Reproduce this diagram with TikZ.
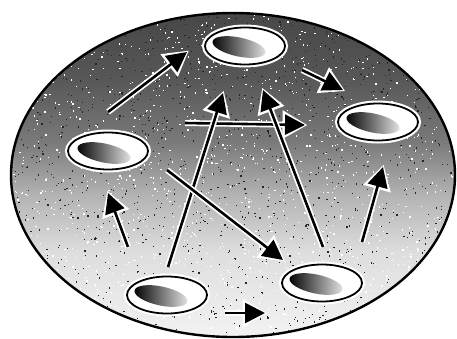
\documentclass[tikz,border=0pt]{standalone}
\usetikzlibrary{arrows.meta,shapes.geometric}
\pgfdeclareverticalshading{diskshade}{100bp}{color(0bp)=(black!5); color(25bp)=(black!5); color(38bp)=(black!13); color(47bp)=(black!30); color(55bp)=(black!52); color(65bp)=(black!66); color(75bp)=(black!72); color(100bp)=(black!72)}
\begin{document}
\begin{tikzpicture}[x=1pt,y=-1pt,
  cell/.style={ellipse, draw, line width=1.8pt, fill=white, minimum width=80pt, minimum height=37pt, inner sep=0pt, preaction={draw=white, line width=6pt}},
  blob/.style={ellipse, minimum width=54pt, minimum height=19pt, inner sep=0pt, left color=black, right color=black!10, rotate=-12},
  arr/.style={draw=black, line width=2.6pt, -{Triangle[length=20pt,width=20pt]},
    preaction={draw=white, line width=6pt, -{Triangle[length=25pt,width=27pt]}, shorten >=-2.5pt}},
]
\useasboundingbox (0,0) rectangle (457,338);
\shade[shading=diskshade] (233,175) ellipse [x radius=222, y radius=162];
\begin{scope}
\clip (233,175) ellipse [x radius=222, y radius=162];
\pgfmathsetseed{7}
\foreach \k in {1,...,1400} {
  \pgfmathsetmacro{\px}{10+447*rnd}
  \pgfmathsetmacro{\py}{12+326*rnd}
  \fill[white] (\px,\py) rectangle ++(1.3,1.3);
}
\foreach \k in {1,...,1400} {
  \pgfmathsetmacro{\px}{10+447*rnd}
  \pgfmathsetmacro{\py}{12+326*rnd}
  \fill[black!85] (\px,\py) rectangle ++(1.2,1.2);
}
\end{scope}
\draw[line width=2.4pt] (233,175) ellipse [x radius=222, y radius=162];
% cells
\node[cell] (t)  at (245,46)  {};
\node[cell] (l)  at (108,151) {};
\node[cell] (r)  at (378,122) {};
\node[cell] (bl) at (167,295) {};
\node[cell] (br) at (322,283) {};
\node[blob] (tb)  at (239,47)  {};
\node[blob] (lb)  at (104,153) {};
\node[blob] (rb)  at (373,123) {};
\node[blob] (blb) at (161,296) {};
\node[blob] (brb) at (316,284) {};
% arrow ends
\coordinate (a1s) at (108,112); \coordinate (a1e) at (187,52);
\coordinate (a2s) at (302,70);  \coordinate (a2e) at (343,90);
\coordinate (a3s) at (185,123); \coordinate (a3e) at (305,125);
\coordinate (a4s) at (168,267); \coordinate (a4e) at (223,93);
\coordinate (a5s) at (323,247); \coordinate (a5e) at (263,90);
\coordinate (a6s) at (167,170); \coordinate (a6e) at (283,260);
\coordinate (a7s) at (128,247); \coordinate (a7e) at (108,193);
\coordinate (a8s) at (362,242); \coordinate (a8e) at (383,167);
\coordinate (a9s) at (225,313); \coordinate (a9e) at (265,313);
\foreach \i in {1,...,9} {\path[arr] (a\i s) -- (a\i e);}
\end{tikzpicture}
\end{document}
